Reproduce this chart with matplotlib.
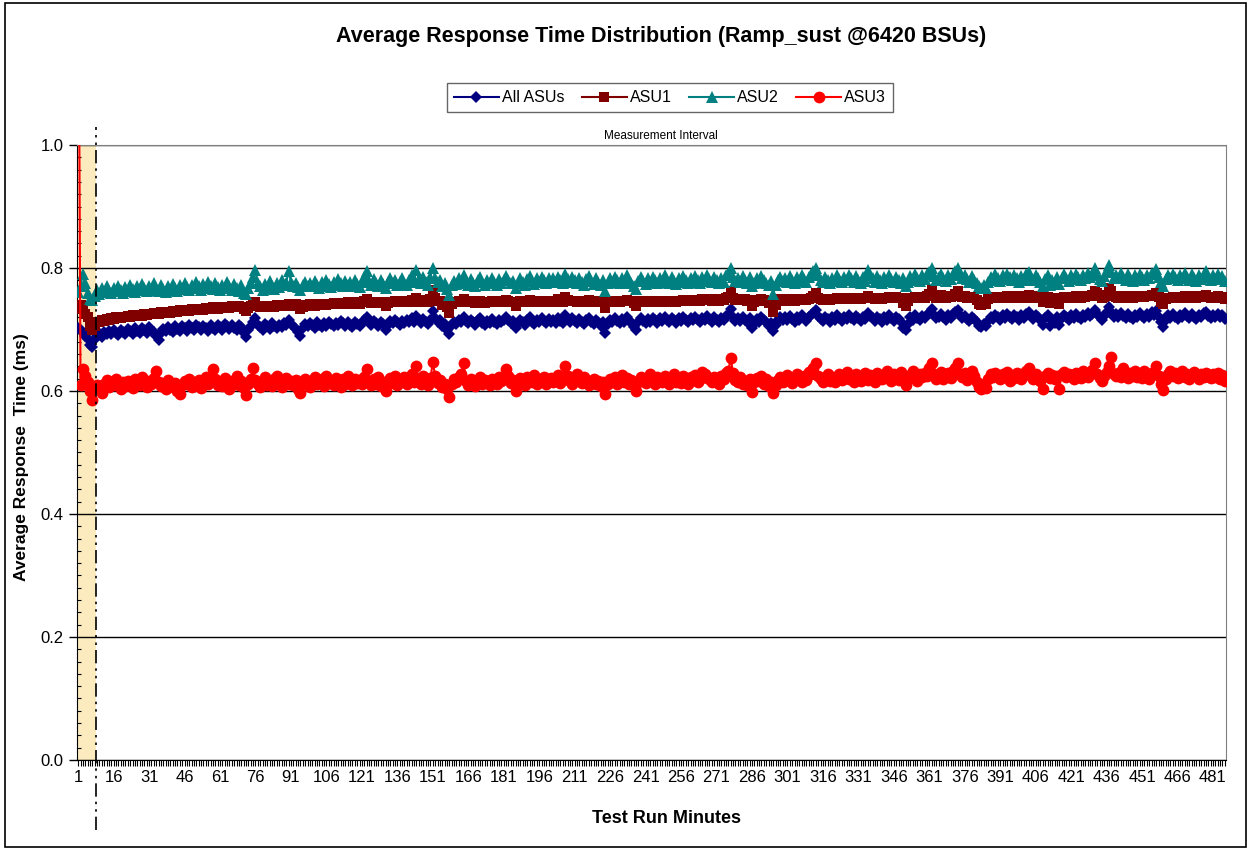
import matplotlib
matplotlib.use("Agg")
import matplotlib.pyplot as plt
import numpy as np
from matplotlib.patches import Rectangle
from matplotlib.ticker import MultipleLocator, FixedLocator
import matplotlib.transforms as mtransforms

plt.rcParams['font.family'] = ['Liberation Sans', 'DejaVu Sans']

# Average response time per test run minute, in microseconds
# minutes 1-8 are the ramp-up, the measurement interval starts at minute 9
ramp_minutes = 8

all_asus_us = [
    703, 700, 695, 690, 685, 675, 672, 685, 690, 694, 688, 696, 692, 698, 693, 699, 695, 691, 700, 696,
    692, 701, 697, 693, 702, 698, 694, 703, 699, 695, 704, 700, 696, 690, 683, 694, 701, 697, 704, 700,
    696, 705, 701, 697, 706, 702, 698, 707, 703, 699, 708, 704, 700, 706, 702, 698, 707, 703, 699, 708,
    704, 700, 709, 705, 701, 707, 703, 699, 708, 704, 695, 688, 700, 706, 712, 718, 708, 704, 700, 709,
    705, 701, 710, 706, 702, 708, 704, 711, 707, 715, 709, 705, 701, 696, 690, 703, 709, 705, 711, 707,
    703, 712, 708, 704, 710, 706, 713, 709, 705, 711, 707, 714, 710, 706, 712, 708, 704, 713, 709, 705,
    711, 716, 720, 712, 708, 714, 710, 706, 713, 709, 700, 708, 714, 710, 716, 712, 708, 714, 710, 716,
    712, 718, 713, 722, 715, 711, 717, 713, 709, 716, 730, 719, 712, 715, 705, 709, 700, 693, 707, 713,
    709, 716, 712, 720, 714, 710, 716, 712, 708, 715, 718, 711, 707, 714, 710, 717, 713, 709, 716, 712,
    715, 721, 716, 711, 714, 702, 710, 716, 712, 708, 715, 720, 713, 709, 716, 712, 718, 714, 710, 717,
    713, 716, 711, 719, 714, 710, 724, 717, 712, 718, 714, 710, 717, 713, 709, 715, 719, 713, 709, 716,
    712, 706, 713, 695, 709, 716, 712, 719, 714, 710, 717, 713, 720, 715, 711, 704, 699, 712, 718, 714,
    710, 717, 713, 719, 715, 711, 718, 714, 720, 716, 712, 719, 715, 711, 718, 714, 721, 716, 712, 719,
    715, 721, 716, 712, 719, 715, 722, 717, 713, 720, 716, 712, 719, 715, 722, 724, 733, 720, 714, 718,
    714, 721, 716, 712, 718, 703, 709, 717, 713, 720, 716, 712, 706, 710, 698, 708, 715, 721, 716, 720,
    715, 722, 717, 713, 720, 716, 723, 718, 714, 721, 724, 727, 731, 722, 717, 714, 721, 717, 713, 720,
    716, 723, 718, 714, 721, 717, 724, 719, 715, 722, 718, 714, 721, 717, 727, 722, 718, 714, 721, 717,
    713, 720, 716, 723, 718, 714, 721, 717, 713, 703, 700, 709, 720, 716, 723, 719, 715, 722, 718, 724,
    727, 733, 723, 718, 721, 725, 720, 716, 723, 719, 725, 728, 732, 724, 719, 722, 717, 714, 721, 717,
    712, 706, 704, 709, 705, 714, 721, 717, 724, 720, 716, 723, 719, 725, 721, 717, 724, 720, 716, 723,
    719, 725, 728, 722, 717, 724, 720, 716, 708, 718, 723, 705, 714, 711, 720, 707, 718, 724, 720, 716,
    723, 719, 726, 721, 717, 724, 720, 727, 722, 726, 731, 726, 720, 716, 722, 728, 736, 729, 721, 725,
    720, 727, 722, 718, 725, 721, 717, 724, 720, 727, 722, 718, 725, 721, 728, 724, 730, 720, 712, 704,
    716, 723, 719, 726, 721, 717, 724, 720, 727, 722, 718, 725, 721, 717, 724, 720, 727, 729, 722, 718,
    724, 720, 726, 721, 723, 717,
]

asu1_us = [
    734, 740, 735, 725, 720, 705, 700, 705, 713, 712, 715, 714, 717, 716, 718, 717, 720, 719, 718, 721,
    720, 722, 721, 723, 722, 724, 723, 722, 725, 724, 726, 725, 727, 726, 725, 728, 727, 729, 728, 727,
    730, 729, 728, 731, 730, 732, 731, 730, 733, 732, 731, 734, 733, 732, 735, 734, 733, 736, 735, 734,
    736, 735, 737, 736, 735, 738, 737, 736, 738, 737, 733, 730, 735, 738, 741, 744, 739, 737, 736, 738,
    737, 739, 738, 737, 740, 739, 738, 740, 739, 742, 740, 739, 741, 738, 734, 737, 740, 739, 741, 740,
    739, 741, 740, 742, 741, 740, 742, 741, 743, 742, 741, 743, 742, 741, 744, 743, 742, 744, 743, 742,
    744, 746, 749, 744, 743, 745, 744, 743, 745, 744, 738, 743, 745, 744, 746, 745, 744, 746, 745, 744,
    746, 748, 745, 752, 747, 745, 748, 746, 745, 750, 764, 752, 746, 747, 740, 744, 736, 727, 742, 745,
    744, 746, 745, 750, 746, 744, 746, 745, 743, 745, 747, 744, 743, 745, 744, 746, 745, 744, 746, 745,
    744, 748, 746, 745, 744, 739, 744, 746, 745, 744, 746, 748, 745, 744, 746, 745, 747, 746, 745, 747,
    746, 745, 747, 749, 746, 745, 753, 748, 746, 747, 746, 745, 747, 746, 744, 746, 748, 746, 745, 747,
    746, 744, 745, 735, 744, 746, 745, 747, 746, 745, 747, 746, 748, 747, 746, 743, 738, 745, 747, 746,
    744, 745, 744, 746, 745, 744, 746, 745, 747, 746, 745, 747, 746, 745, 747, 746, 748, 747, 746, 748,
    747, 748, 746, 747, 749, 748, 750, 748, 747, 749, 748, 747, 749, 748, 751, 753, 763, 751, 748, 749,
    748, 750, 749, 747, 748, 739, 744, 748, 747, 749, 748, 747, 743, 745, 729, 740, 747, 749, 748, 749,
    747, 749, 748, 747, 749, 748, 750, 749, 748, 750, 752, 755, 760, 751, 749, 748, 750, 749, 748, 750,
    749, 751, 750, 749, 751, 750, 752, 751, 750, 752, 751, 750, 752, 751, 755, 752, 751, 750, 752, 751,
    750, 752, 751, 753, 752, 751, 753, 752, 751, 743, 739, 747, 752, 751, 753, 752, 751, 753, 752, 754,
    757, 765, 755, 752, 754, 756, 753, 752, 754, 753, 755, 758, 763, 755, 753, 754, 752, 751, 753, 752,
    748, 742, 740, 744, 742, 749, 752, 751, 753, 752, 751, 753, 752, 754, 753, 752, 754, 753, 752, 754,
    752, 754, 756, 753, 752, 754, 753, 752, 744, 751, 753, 743, 750, 749, 752, 742, 751, 753, 752, 751,
    753, 752, 754, 753, 752, 754, 753, 755, 754, 756, 762, 759, 754, 752, 753, 756, 768, 763, 754, 753,
    752, 754, 753, 752, 754, 753, 752, 754, 753, 755, 754, 753, 755, 754, 756, 755, 759, 753, 745, 741,
    749, 752, 751, 753, 752, 751, 753, 752, 754, 753, 752, 754, 753, 752, 754, 753, 755, 756, 753, 752,
    753, 752, 754, 752, 753, 750,
]

asu2_us = [
    761, 770, 790, 775, 760, 750, 748, 755, 764, 758, 767, 761, 770, 763, 759, 768, 762, 771, 765, 760,
    769, 763, 773, 766, 761, 770, 764, 774, 767, 762, 771, 765, 775, 768, 763, 772, 766, 761, 770, 765,
    774, 768, 763, 772, 766, 776, 769, 764, 773, 767, 777, 770, 765, 774, 768, 778, 771, 766, 775, 769,
    764, 773, 767, 778, 770, 765, 774, 768, 763, 772, 760, 757, 768, 775, 785, 797, 776, 770, 765, 774,
    768, 779, 771, 766, 775, 769, 780, 772, 776, 795, 778, 770, 775, 769, 764, 773, 778, 771, 776, 770,
    779, 773, 768, 777, 771, 781, 774, 769, 778, 772, 782, 775, 770, 779, 773, 777, 771, 780, 774, 769,
    778, 786, 795, 779, 773, 782, 776, 771, 780, 774, 768, 777, 783, 775, 780, 773, 778, 784, 776, 772,
    781, 788, 777, 797, 782, 776, 785, 778, 773, 786, 800, 784, 777, 781, 770, 775, 766, 756, 772, 779,
    774, 783, 776, 789, 779, 773, 782, 776, 771, 780, 785, 777, 772, 781, 775, 784, 778, 773, 782, 776,
    780, 787, 781, 775, 779, 768, 776, 784, 778, 773, 782, 787, 779, 774, 783, 777, 786, 780, 775, 784,
    778, 783, 777, 786, 780, 775, 791, 782, 777, 786, 780, 775, 784, 778, 773, 782, 787, 779, 774, 783,
    777, 772, 781, 763, 776, 783, 778, 786, 780, 775, 784, 778, 788, 781, 776, 770, 766, 779, 785, 779,
    774, 783, 777, 786, 780, 775, 784, 778, 788, 781, 776, 785, 779, 774, 783, 777, 787, 780, 775, 784,
    778, 787, 781, 776, 785, 779, 788, 782, 777, 786, 780, 775, 784, 778, 788, 790, 800, 786, 779, 784,
    778, 787, 781, 776, 785, 770, 775, 783, 778, 787, 781, 776, 772, 779, 758, 772, 780, 786, 779, 784,
    778, 787, 781, 776, 785, 779, 788, 782, 777, 786, 790, 795, 800, 788, 781, 777, 786, 780, 775, 784,
    779, 788, 782, 777, 786, 780, 789, 783, 778, 787, 781, 776, 785, 779, 797, 788, 783, 778, 787, 781,
    776, 785, 779, 788, 782, 777, 786, 780, 775, 784, 770, 778, 787, 781, 790, 784, 779, 788, 782, 791,
    794, 800, 787, 781, 786, 791, 784, 779, 788, 782, 790, 795, 800, 789, 783, 788, 782, 778, 787, 781,
    776, 770, 767, 773, 767, 778, 786, 781, 790, 784, 779, 788, 782, 791, 785, 780, 789, 783, 778, 787,
    781, 790, 794, 786, 780, 789, 783, 778, 770, 782, 788, 772, 781, 776, 785, 774, 783, 790, 784, 779,
    788, 782, 791, 785, 780, 789, 783, 792, 786, 790, 800, 788, 782, 779, 787, 793, 805, 794, 784, 789,
    783, 792, 786, 781, 790, 784, 779, 788, 782, 791, 785, 780, 789, 783, 792, 790, 798, 786, 778, 770,
    782, 788, 783, 791, 785, 780, 789, 783, 792, 786, 781, 790, 784, 779, 788, 782, 791, 795, 786, 781,
    788, 782, 790, 784, 787, 779,
]

asu3_us = [
    1400, 610, 635, 625, 615, 600, 585, 605, 610, 603, 596, 612, 618, 606, 614, 609, 620, 611, 604, 615,
    608, 617, 612, 605, 619, 613, 609, 622, 614, 607, 616, 611, 621, 633, 615, 608, 612, 604, 618, 610,
    606, 613, 600, 595, 609, 616, 612, 620, 607, 614, 611, 618, 605, 615, 622, 612, 617, 635, 619, 610,
    613, 608, 621, 615, 603, 617, 611, 624, 609, 616, 605, 593, 612, 620, 637, 618, 611, 606, 615, 622,
    610, 617, 608, 619, 625, 612, 606, 614, 621, 611, 616, 609, 618, 603, 597, 612, 620, 614, 607, 617,
    622, 611, 615, 619, 608, 624, 613, 617, 610, 621, 614, 606, 619, 612, 625, 616, 609, 620, 613, 618,
    611, 623, 635, 616, 609, 619, 612, 622, 608, 614, 600, 617, 621, 613, 625, 610, 618, 615, 623, 612,
    619, 627, 614, 640, 620, 611, 624, 616, 609, 621, 647, 625, 613, 618, 606, 612, 603, 590, 611, 619,
    614, 622, 628, 645, 617, 610, 620, 613, 608, 616, 622, 611, 618, 614, 609, 620, 615, 612, 623, 617,
    620, 635, 624, 613, 618, 600, 612, 621, 615, 609, 622, 617, 614, 626, 611, 619, 616, 623, 612, 618,
    621, 614, 619, 626, 613, 622, 640, 625, 617, 611, 620, 627, 616, 613, 622, 618, 609, 614, 620, 612,
    617, 608, 614, 595, 612, 620, 616, 623, 611, 619, 626, 614, 621, 612, 618, 609, 600, 615, 622, 617,
    613, 620, 627, 616, 611, 623, 618, 614, 625, 619, 612, 621, 628, 615, 620, 613, 624, 617, 611, 622,
    618, 626, 614, 620, 631, 628, 622, 619, 615, 623, 617, 612, 625, 619, 630, 632, 654, 629, 618, 614,
    622, 611, 617, 609, 620, 598, 614, 621, 616, 625, 612, 619, 608, 614, 597, 610, 618, 623, 615, 620,
    626, 617, 613, 621, 628, 619, 614, 624, 618, 631, 627, 638, 645, 625, 619, 615, 622, 628, 617, 623,
    614, 620, 627, 618, 625, 631, 619, 622, 615, 628, 621, 617, 624, 630, 618, 626, 620, 614, 629, 623,
    619, 625, 632, 621, 616, 627, 622, 618, 631, 624, 610, 620, 626, 633, 621, 617, 628, 623, 630, 625,
    637, 645, 628, 620, 626, 631, 619, 624, 629, 621, 633, 638, 645, 627, 622, 630, 618, 625, 632, 624,
    615, 606, 603, 612, 605, 620, 627, 622, 630, 624, 619, 628, 623, 631, 617, 626, 621, 629, 624, 620,
    627, 632, 638, 625, 620, 628, 622, 617, 603, 624, 629, 621, 626, 619, 624, 604, 627, 631, 622, 628,
    624, 619, 630, 626, 621, 632, 627, 623, 629, 634, 645, 628, 621, 617, 625, 631, 640, 655, 628, 624,
    630, 622, 638, 627, 621, 629, 625, 632, 623, 628, 621, 633, 626, 620, 629, 631, 640, 625, 612, 602,
    619, 627, 633, 624, 629, 621, 626, 632, 623, 628, 620, 627, 631, 624, 619, 628, 622, 630, 625, 621,
    627, 623, 629, 620, 626, 616,
]

series_names = ['All ASUs', 'ASU1', 'ASU2', 'ASU3']
series_data = [all_asus_us, asu1_us, asu2_us, asu3_us]
series_colors = ['#000080', '#800000', '#008080', '#FF0000']
series_markers = ['D', 's', '^', 'o']
series_msize = [6.5, 7, 8, 8.5]

label_minutes = list(range(1, 482, 15))
n_minutes = len(all_asus_us)

fig = plt.figure(figsize=(12.5, 8.5), dpi=100)
ax = fig.add_axes([0.0616, 0.1059, 0.9192, 0.7235])

# ramp-up shading
ax.axvspan(0.5, ramp_minutes + 0.5, color='#FCEBBF', zorder=0, lw=0)

for name, vals, col, mk, ms in zip(series_names, series_data, series_colors, series_markers, series_msize):
    x = np.arange(1, len(vals) + 1)
    y = np.array(vals) / 1000.0
    ax.plot(x, y, color=col, marker=mk, markersize=ms, markeredgewidth=0, linewidth=1.5, label=name, zorder=3)

ax.set_xlim(0.5, n_minutes + 0.5)
ax.set_ylim(0, 1.0)

# grid and spines
ax.yaxis.set_major_locator(MultipleLocator(0.2))
ax.yaxis.set_minor_locator(MultipleLocator(0.02))
ax.set_yticklabels([f'{v:.1f}' for v in ax.get_yticks()])
ax.grid(axis='y', which='major', color='black', linewidth=1, zorder=1)
ax.set_axisbelow(True)
ax.spines['top'].set_color('#808080')
ax.spines['right'].set_color('#808080')
ax.spines['left'].set_color('black')
ax.spines['bottom'].set_color('black')

ax.xaxis.set_major_locator(FixedLocator(label_minutes))
ax.xaxis.set_minor_locator(FixedLocator(np.arange(1, n_minutes + 1)))
ax.set_xticklabels([str(m) for m in label_minutes])
ax.tick_params(axis='x', which='both', direction='out', length=4, width=0.8, labelsize=12, pad=3)
ax.tick_params(axis='y', which='major', direction='out', length=6, width=1, labelsize=12)
ax.tick_params(axis='y', which='minor', direction='in', length=3, width=0.8)

# measurement interval marker
trans = mtransforms.blended_transform_factory(ax.transData, ax.transAxes)
ax.plot([ramp_minutes + 0.5, ramp_minutes + 0.5], [-0.114, 1.03], transform=trans, clip_on=False,
        color='black', linewidth=1.2, dashes=(8, 3, 1.5, 3, 1.5, 3), zorder=4)
ax.text((ramp_minutes + 1 + n_minutes) / 2, 1.005, 'Measurement Interval', transform=trans,
        ha='center', va='bottom', fontsize=8.5)

fig.text(0.529, 0.9565, 'Average Response Time Distribution (Ramp_sust @6420 BSUs)',
         ha='center', va='center', fontsize=15.5, fontweight='bold')
fig.text(0.017, 0.4624, 'Average Response  Time (ms)', rotation=90, ha='center', va='center',
         fontsize=12.5, fontweight='bold')
fig.text(0.5336, 0.0365, 'Test Run Minutes', ha='center', va='center', fontsize=13, fontweight='bold')

leg = fig.legend(loc='center', bbox_to_anchor=(0.536, 0.885), ncol=4, fontsize=11.5, frameon=True,
                 fancybox=False, handlelength=2.8, handletextpad=0.2, columnspacing=1.1,
                 borderpad=0.45)
leg.get_frame().set_edgecolor('#404040')
leg.get_frame().set_linewidth(1.0)

fig.patches.append(Rectangle((0.004, 0.003), 0.993, 0.994, transform=fig.transFigure,
                             fill=False, edgecolor='black', linewidth=1.2))

fig.savefig('out.png', dpi=100)
